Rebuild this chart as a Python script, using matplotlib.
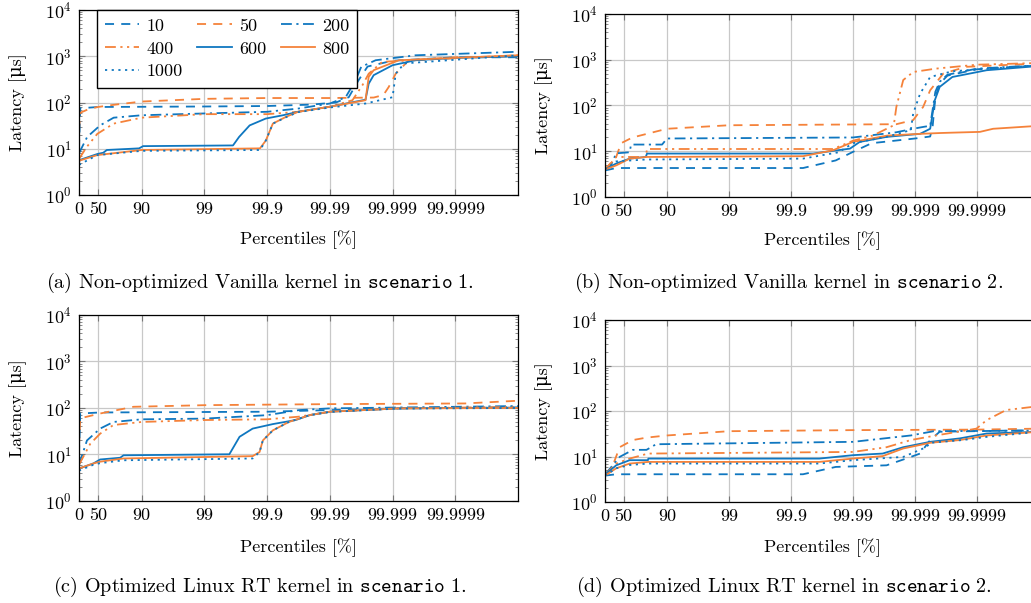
import numpy as np
import matplotlib
matplotlib.use("Agg")
import matplotlib.pyplot as plt

plt.rcParams['font.family'] = ['cmr10', 'DejaVu Serif']
plt.rcParams['mathtext.fontset'] = 'cm'
plt.rcParams['axes.formatter.use_mathtext'] = True
plt.rcParams['font.size'] = 13

labels = ["10", "50", "200", "400", "600", "800", "1000"]
colors = ["#0F77C0", "#F5823A", "#0F77C0", "#F5823A", "#0F77C0", "#F5823A", "#0F77C0"]
styles = [(0, (5, 4)), (0, (5, 4)), (0, (6, 2.5, 1.2, 2.5)), (0, (6, 2.5, 1.2, 2.5, 1.2, 2.5)),
          "-", "-", (0, (1.2, 2.5))]
# legend is filled row by row in the reference
legend_order = ["10", "400", "1000", "50", "600", "200", "800"]

xticks = [0, 50, 90, 99, 99.9, 99.99, 99.999, 99.9999]
xticklabels = ["0", "50", "90", "99", "99.9", "99.99", "99.999", "99.9999"]

captions = [
    r"(a) Non-optimized Vanilla kernel in $\mathtt{scenario\ 1}$.",
    r"(b) Non-optimized Vanilla kernel in $\mathtt{scenario\ 2}$.",
    r"(c) Optimized Linux RT kernel in $\mathtt{scenario\ 1}$.",
    r"(d) Optimized Linux RT kernel in $\mathtt{scenario\ 2}$.",
]

# percentile [%] -> latency [us], one dict per panel
panel_a = {
    "10": ([0, 4.5, 50, 99, 99.9, 99.98, 99.992, 99.995, 99.9965, 99.9975, 99.999, 99.9999, 99.99999],
           [10, 75, 80, 82, 84, 90, 100, 130, 300, 600, 800, 950, 950]),
    "50": ([0, 4.5, 30, 50, 70, 90, 99, 99.9, 99.99, 99.998, 99.9986, 99.99885, 99.99911, 99.99945, 99.9999, 99.99999],
           [25, 60, 72, 80, 88, 105, 120, 125, 125, 128, 145, 217, 420, 820, 950, 1000]),
    "200": ([0, 26, 54, 72, 90, 99, 99.9, 99.968, 99.99, 99.9944, 99.9961, 99.99684, 99.99814, 99.99957, 99.99999],
            [8, 18, 32, 47, 53, 58, 63, 74, 95, 130, 300, 590, 820, 1050, 1250]),
    "400": ([0, 25, 49, 72, 90, 99, 99.9, 99.968, 99.99, 99.99564, 99.99698, 99.9976, 99.99855, 99.99999],
            [6, 11, 21, 35, 47, 56, 56, 63, 81, 112, 237, 420, 760, 1050]),
    "600": ([0, 2, 49, 59, 64, 89, 90.5, 99.65, 99.72, 99.81, 99.895, 99.944, 99.968, 99.99, 99.9973,
             99.9976, 99.998, 99.999, 99.99957, 99.9999, 99.99999],
            [5, 5.7, 7.7, 8.2, 9.4, 10.2, 11.4, 11.8, 18, 32, 45, 53, 63, 81, 115, 255, 390, 640, 820, 920, 1000]),
    "800": ([0, 49, 90, 99.87, 99.895, 99.919, 99.95, 99.968, 99.99, 99.9973, 99.9976, 99.998, 99.99921, 99.99999],
            [5.5, 7.3, 9.4, 10.2, 15, 35, 49, 63, 81, 112, 360, 500, 820, 1050]),
    "1000": ([0, 49, 90, 99.87, 99.895, 99.919, 99.95, 99.968, 99.99, 99.9973, 99.999, 99.99911, 99.99935, 99.99999],
             [4.5, 7.3, 9, 9.4, 15, 35, 48, 62, 78, 95, 130, 420, 700, 1050]),
}

panel_b = {
    "10": ([0, 34, 99.936, 99.981, 99.99, 99.995, 99.999, 99.99943, 99.99948, 99.99953, 99.9996, 99.9997, 99.9999, 99.99999],
           [3.8, 4.3, 4.3, 6.3, 9.7, 15, 19, 21, 35, 150, 300, 450, 620, 750]),
    "50": ([0, 34, 45, 64, 90, 99, 99.998, 99.99893, 99.99926, 99.99943, 99.99965, 99.99985, 99.99999],
           [4, 7.5, 15, 20, 31, 37, 39, 48, 93, 215, 500, 700, 830]),
    "200": ([0, 20, 34, 60, 62, 88, 90, 99.99, 99.998, 99.99893, 99.99926, 99.99943, 99.99953, 99.9996, 99.9997,
             99.9999, 99.99999],
            [4, 5, 9, 9.5, 14, 14, 19, 20, 26, 31, 34, 36, 200, 330, 470, 640, 760]),
    "400": ([0, 20, 34, 78, 79, 99.979, 99.99, 99.9952, 99.9978, 99.998, 99.99845, 99.99893, 99.99954, 99.9999, 99.99999],
            [4, 5.5, 7.5, 7.5, 11.2, 11.2, 17, 22, 37, 93, 360, 540, 640, 780, 850]),
    "600": ([0, 34, 60, 78, 79, 99.9559, 99.979, 99.9888, 99.9922, 99.99712, 99.99917, 99.99943, 99.99952,
             99.9996, 99.99975, 99.99993, 99.99999],
            [4, 5.4, 6.9, 7.5, 8.9, 8.9, 10.2, 11.4, 16, 20.6, 24, 31, 130, 255, 420, 590, 730]),
    "800": ([0, 34, 60, 78, 99.936, 99.979, 99.99, 99.9972, 99.99917, 99.9996, 99.99975, 99.99991, 99.999945, 99.99999],
            [4, 4.9, 6.9, 7.5, 7.8, 10.5, 16, 22, 24, 25, 25.5, 26.5, 31, 36]),
    "1000": ([0, 34, 78, 99.936, 99.983, 99.99, 99.9971, 99.99883, 99.99893, 99.99917, 99.99943, 99.99975, 99.99999],
             [4, 6, 6.6, 6.9, 9.5, 15, 20.6, 29, 67, 180, 420, 560, 760]),
}

panel_c = {
    "10": ([0, 4.5, 54, 99.9, 99.99, 99.9992, 99.99999],
           [10, 76, 80, 83, 90, 98, 102]),
    "50": ([0, 4.5, 54, 86.5, 99.07, 99.9909, 99.99993, 99.99999],
           [15, 60, 76, 106, 115, 121, 125, 143]),
    "200": ([0, 25.4, 54, 71.8, 90, 99, 99.9, 99.969, 99.99, 99.99999],
            [6, 20, 36, 50, 57, 59, 70, 90, 98, 110]),
    "400": ([0, 34, 54, 71.8, 90, 99, 99.9, 99.969, 99.99, 99.9992, 99.99999],
            [6, 17, 28, 43, 50, 55, 57, 65, 83, 98, 106]),
    "600": ([0, 15.7, 41, 54, 78, 80.5, 99.6, 99.725, 99.83, 99.919, 99.965, 99.979, 99.99, 99.9992, 99.99999],
            [5, 5.4, 6.4, 7.8, 8.5, 9.6, 10.1, 24, 36, 45, 55, 70, 83, 98, 102]),
    "800": ([0, 41, 54, 80.5, 99.83, 99.868, 99.883, 99.919, 99.955, 99.979, 99.99, 99.9992, 99.99999],
            [5, 6.4, 7.0, 8.2, 9.2, 11.3, 20, 33, 50, 70, 83, 98, 100]),
    "1000": ([0, 41, 54, 80.5, 99.83, 99.868, 99.883, 99.919, 99.955, 99.979, 99.99, 99.9992, 99.99999],
             [4.5, 6, 6.5, 7.5, 8.2, 11.3, 20, 33, 50, 70, 82, 97, 100]),
}

panel_d = {
    "10": ([0, 34, 99.936, 99.981, 99.99712, 99.99883, 99.99917, 99.99943, 99.9996, 99.99999],
           [3.8, 4.07, 4.07, 5.9, 6.4, 9.8, 11.6, 23, 35, 38]),
    "50": ([0, 20, 42, 64.5, 78.6, 90, 99, 99.99, 99.9999, 99.99999],
           [4, 5, 16, 23, 26, 29, 36, 38, 39, 41]),
    "200": ([0, 42, 64.5, 78.6, 85, 99.99, 99.99883, 99.9995, 99.99999],
            [4, 9.8, 14, 14, 18.6, 21, 29, 36, 37]),
    "400": ([0, 34, 60, 79.7, 99.99, 99.99712, 99.99883, 99.99954, 99.999898, 99.99993, 99.999966, 99.99999],
            [4, 7, 9, 11.6, 12.6, 16, 23, 29, 41, 63, 105, 128]),
    "600": ([0, 34, 60, 79.7, 80, 99.965, 99.99, 99.99667, 99.99845, 99.99943, 99.99981, 99.99993, 99.99999],
            [4, 6.4, 8.3, 8.3, 9.0, 9.0, 10.7, 11.6, 16, 21, 25, 32, 35]),
    "800": ([0, 34, 60, 80, 99.965, 99.99, 99.99667, 99.99845, 99.99943, 99.99981, 99.99993, 99.99999],
            [3.8, 5.5, 7, 7.6, 7.6, 9, 10.2, 15, 20, 23, 29, 35]),
    "1000": ([0, 34, 60, 80, 99.965, 99.99, 99.99845, 99.99934, 99.99943, 99.99983, 99.99993, 99.99999],
             [3.8, 5.5, 6.5, 7.0, 7.0, 8.3, 9.8, 16, 20, 23, 27, 35]),
}


def nines(p):
    p = np.asarray(p, dtype=float)
    return -np.log10(np.clip(1 - p / 100, 1e-12, None))


def nines_inv(x):
    x = np.asarray(x, dtype=float)
    return 100 * (1 - 10.0 ** (-x))


fig = plt.figure(figsize=(10.31, 6.03), dpi=100)
boxes = [[0.0766, 0.6766, 0.4258, 0.3068],
         [0.5868, 0.6733, 0.4210, 0.3035],
         [0.0766, 0.1692, 0.4258, 0.3085],
         [0.5868, 0.1675, 0.4210, 0.3018]]
cap_pos = [(0.252, 0.531), (0.765, 0.531), (0.252, 0.027), (0.760, 0.027)]
xlab_y = [-0.19, -0.186, -0.2, -0.198]
ylab_x = [-0.118, -0.12, -0.118, -0.12]
panels = [panel_a, panel_b, panel_c, panel_d]

for i, data in enumerate(panels):
    ax = fig.add_axes(boxes[i])
    lines = {}
    for lab, col, ls in zip(labels, colors, styles):
        x, y = data[lab]
        lines[lab], = ax.plot(x, y, color=col, linestyle=ls, linewidth=1.3, label=lab)
    ax.set_xscale('function', functions=(nines, nines_inv))
    ax.set_yscale('log')
    ax.set_xlim(0, 99.99999)
    ax.set_ylim(1, 1e4)
    ax.set_xticks(xticks)
    ax.set_xticklabels(xticklabels)
    ax.xaxis.set_minor_locator(matplotlib.ticker.NullLocator())
    ax.set_yticks([1, 10, 100, 1000, 10000])
    ax.grid(True, which='major', color='#c8c8c8', linewidth=0.9)
    ax.tick_params(which='both', direction='in', top=True, right=True, color='#777777')
    ax.tick_params(which='major', length=4, pad=5)
    ax.tick_params(which='minor', length=2.5)
    for s in ax.spines.values():
        s.set_linewidth(0.9)
    ax.set_xlabel("Percentiles [%]")
    ax.set_ylabel("Latency [\u03bcs]")
    ax.yaxis.set_label_coords(ylab_x[i], 0.5)
    ax.xaxis.set_label_coords(0.5, xlab_y[i])
    if i == 0:
        ax.legend([lines[k] for k in legend_order], legend_order, ncol=3, loc='upper left',
                  bbox_to_anchor=(0.041, 1.0), borderaxespad=0,
                  fancybox=False, edgecolor='black', framealpha=1, handlelength=1.9,
                  columnspacing=0.8, handletextpad=0.4, borderpad=0.45, labelspacing=0.4)
    fig.text(cap_pos[i][0], cap_pos[i][1], captions[i], ha='center', va='center', fontsize=14.5)

fig.savefig("out.png", dpi=100)
